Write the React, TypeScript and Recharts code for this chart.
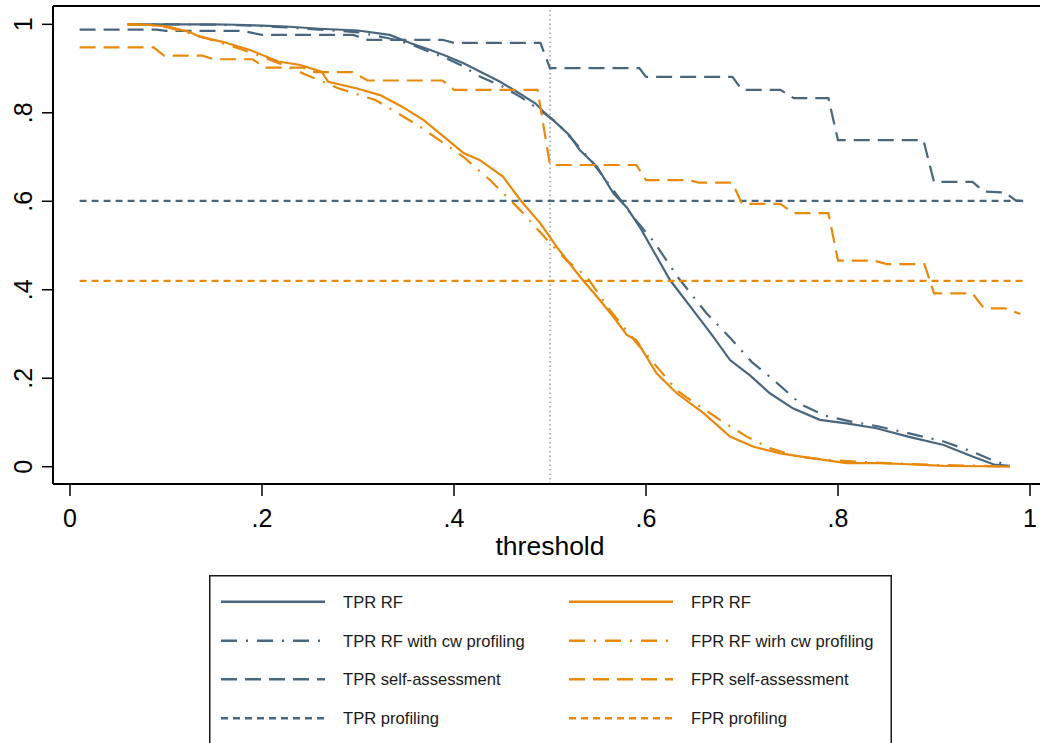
import React from 'react';
import { LineChart, Line, XAxis, YAxis, ReferenceLine } from 'recharts';

const BLUE = '#48677f';
const ORANGE = '#e8890c';
const FONT = '"Liberation Sans", Arial, sans-serif';

const ticks = [0, 0.2, 0.4, 0.6, 0.8, 1];
const tickLabels = ['0', '.2', '.4', '.6', '.8', '1'];
const cutoff = 0.5;

// TPR RF
const tprRfX = [0.06, 0.1, 0.15, 0.173, 0.2, 0.225, 0.26, 0.3, 0.333, 0.355, 0.374, 0.39, 0.41, 0.43, 0.448, 0.465, 0.485, 0.493, 0.507, 0.52, 0.531, 0.549, 0.566, 0.58, 0.594, 0.611, 0.625, 0.649, 0.67, 0.6875, 0.708, 0.729, 0.753, 0.781, 0.809, 0.84, 0.873, 0.91, 0.94, 0.9625, 0.979];
const tprRfY = [1.0, 1.0, 1.0, 0.999, 0.997, 0.995, 0.99, 0.986, 0.976, 0.957, 0.943, 0.93, 0.912, 0.89, 0.87, 0.848, 0.821, 0.803, 0.776, 0.75, 0.716, 0.678, 0.618, 0.586, 0.54, 0.475, 0.422, 0.354, 0.294, 0.241, 0.207, 0.166, 0.132, 0.106, 0.098, 0.087, 0.068, 0.049, 0.023, 0.005, 0.002];

// TPR RF with cw profiling
const tprCwX = [0.06, 0.1, 0.15, 0.173, 0.2, 0.225, 0.26, 0.3, 0.333, 0.355, 0.374, 0.39, 0.41, 0.424, 0.45, 0.47, 0.49, 0.507, 0.524, 0.545, 0.566, 0.585, 0.608, 0.634, 0.663, 0.689, 0.71, 0.733, 0.762, 0.787, 0.818, 0.84, 0.873, 0.91, 0.94, 0.9625, 0.979];
const tprCwY = [1.0, 1.0, 0.999, 0.998, 0.996, 0.993, 0.988, 0.982, 0.968, 0.955, 0.938, 0.925, 0.905, 0.885, 0.86, 0.835, 0.805, 0.778, 0.738, 0.686, 0.625, 0.569, 0.509, 0.426, 0.347, 0.288, 0.237, 0.196, 0.14, 0.115, 0.1, 0.092, 0.076, 0.057, 0.034, 0.013, 0.002];

// TPR self-assessment
const tprSelfX = [0.01, 0.09, 0.1, 0.18, 0.2, 0.295, 0.31, 0.388, 0.4, 0.49, 0.5, 0.593, 0.6, 0.69, 0.7, 0.74, 0.754, 0.79, 0.8, 0.889, 0.9, 0.94, 0.952, 0.974, 0.985, 0.994];
const tprSelfY = [0.988, 0.988, 0.985, 0.985, 0.976, 0.976, 0.965, 0.965, 0.958, 0.958, 0.901, 0.901, 0.881, 0.881, 0.852, 0.852, 0.833, 0.833, 0.738, 0.738, 0.644, 0.644, 0.622, 0.62, 0.602, 0.6];

// TPR profiling
const tprProfX = [0.01, 0.995];
const tprProfY = [0.601, 0.601];

// FPR RF
const fprRfX = [0.06, 0.08, 0.102, 0.124, 0.135, 0.158, 0.1875, 0.217, 0.24, 0.262, 0.269, 0.299, 0.323, 0.345, 0.368, 0.39, 0.41, 0.427, 0.451, 0.469, 0.49, 0.507, 0.531, 0.549, 0.566, 0.58, 0.59, 0.611, 0.632, 0.66, 0.6875, 0.712, 0.74, 0.774, 0.809, 0.844, 0.88, 0.91, 0.95, 0.979];
const fprRfY = [1.0, 0.999, 0.995, 0.983, 0.972, 0.961, 0.942, 0.916, 0.908, 0.893, 0.87, 0.855, 0.84, 0.815, 0.784, 0.745, 0.709, 0.693, 0.656, 0.603, 0.55, 0.497, 0.43, 0.384, 0.339, 0.298, 0.286, 0.211, 0.166, 0.121, 0.068, 0.045, 0.03, 0.019, 0.008, 0.008, 0.005, 0.002, 0.001, 0.0];

// FPR RF wirh cw profiling
const fprCwX = [0.06, 0.08, 0.102, 0.124, 0.14, 0.165, 0.19, 0.22, 0.247, 0.28, 0.318, 0.33, 0.365, 0.41, 0.4375, 0.469, 0.4965, 0.517, 0.538, 0.5625, 0.59, 0.632, 0.646, 0.677, 0.705, 0.729, 0.757, 0.792, 0.85, 0.9, 0.95, 0.979];
const fprCwY = [1.0, 0.999, 0.993, 0.98, 0.97, 0.953, 0.935, 0.91, 0.885, 0.855, 0.829, 0.814, 0.768, 0.7, 0.648, 0.58, 0.514, 0.467, 0.43, 0.354, 0.28, 0.173, 0.151, 0.106, 0.068, 0.042, 0.023, 0.015, 0.008, 0.004, 0.002, 0.0];

// FPR self-assessment
const fprSelfX = [0.01, 0.087, 0.098, 0.138, 0.15, 0.19, 0.204, 0.243, 0.255, 0.294, 0.31, 0.388, 0.4, 0.487, 0.5, 0.59, 0.6, 0.645, 0.655, 0.69, 0.7, 0.74, 0.754, 0.79, 0.8, 0.837, 0.851, 0.89, 0.9, 0.94, 0.952, 0.974, 0.99];
const fprSelfY = [0.948, 0.948, 0.929, 0.929, 0.921, 0.921, 0.902, 0.902, 0.892, 0.892, 0.873, 0.873, 0.852, 0.852, 0.682, 0.682, 0.648, 0.648, 0.642, 0.642, 0.594, 0.594, 0.573, 0.573, 0.466, 0.466, 0.458, 0.458, 0.392, 0.392, 0.358, 0.358, 0.345];

// FPR profiling
const fprProfX = [0.01, 0.997];
const fprProfY = [0.42, 0.42];

const zip = (xs: number[], ys: number[]) => xs.map((x, i) => ({ x, y: ys[i] }));

const DASH_DOT = '16 9 2 9';
const DASHED = '16 8';
const SHORT = '7 5';

const series = [
  { name: 'TPR RF', data: zip(tprRfX, tprRfY), color: BLUE, dash: undefined },
  { name: 'TPR RF with cw profiling', data: zip(tprCwX, tprCwY), color: BLUE, dash: DASH_DOT },
  { name: 'TPR self-assessment', data: zip(tprSelfX, tprSelfY), color: BLUE, dash: DASHED },
  { name: 'TPR profiling', data: zip(tprProfX, tprProfY), color: BLUE, dash: SHORT },
  { name: 'FPR RF', data: zip(fprRfX, fprRfY), color: ORANGE, dash: undefined },
  { name: 'FPR RF wirh cw profiling', data: zip(fprCwX, fprCwY), color: ORANGE, dash: DASH_DOT },
  { name: 'FPR self-assessment', data: zip(fprSelfX, fprSelfY), color: ORANGE, dash: DASHED },
  { name: 'FPR profiling', data: zip(fprProfX, fprProfY), color: ORANGE, dash: SHORT },
];

const xDomain = [-0.0177, 1.0177];
const yDomain = [-0.0391, 1.0414];

const fmt = (v: number) => tickLabels[ticks.indexOf(v)] ?? String(v);

const XTick = (props: any) => {
  const { x, y, payload } = props;
  return (
    <text x={x} y={y + 31} textAnchor="middle" fontSize={25} fontFamily={FONT} fill="#000">
      {fmt(payload.value)}
    </text>
  );
};

const YTick = (props: any) => {
  const { x, y, payload } = props;
  const tx = x - 10;
  return (
    <text x={tx} y={y} transform={`rotate(-90 ${tx} ${y})`} textAnchor="middle" fontSize={25} fontFamily={FONT} fill="#000">
      {fmt(payload.value)}
    </text>
  );
};

const LegendBox = () => {
  const rowY = [26.7, 65.7, 104.3, 143.3];
  const cols = [
    { sx: 12, tx: 134, items: series.slice(0, 4) },
    { sx: 360, tx: 482, items: series.slice(4) },
  ];
  return (
    <svg width={683} height={170} style={{ position: 'absolute', left: 209, top: 575 }}>
      <rect x={0.75} y={0.75} width={681.5} height={175} fill="#fff" stroke="#1a1a1a" strokeWidth={1.5} />
      {cols.map((c, ci) =>
        c.items.map((s, i) => (
          <g key={`${ci}-${i}`}>
            <line x1={c.sx} x2={c.sx + 104} y1={rowY[i]} y2={rowY[i]} stroke={s.color} strokeWidth={2.4} strokeDasharray={s.dash} />
            <text x={c.tx} y={rowY[i] + 6} fontSize={16.6} fontFamily={FONT} fill="#1a1a1a">
              {s.name}
            </text>
          </g>
        ))
      )}
    </svg>
  );
};

export default function App() {
  return (
    <div style={{ position: 'absolute', left: 0, top: 0, width: 1040, height: 743, overflow: 'hidden', background: '#fff' }}>
      <LineChart width={1050} height={743} margin={{ top: 0, left: 0, right: 3, bottom: 0 }}>
        <XAxis
          dataKey="x"
          type="number"
          domain={xDomain}
          allowDataOverflow
          ticks={ticks}
          height={259}
          tickSize={12}
          tickMargin={0}
          tick={<XTick />}
          axisLine={{ stroke: '#000', strokeWidth: 2 }}
          tickLine={{ stroke: '#000', strokeWidth: 1.5 }}
          label={{
            content: (p: any) => {
              const vb = p.viewBox;
              return (
                <text x={vb.x + vb.width / 2} y={vb.y + 71} textAnchor="middle" fontSize={26.5} fontFamily={FONT} fill="#000">
                  threshold
                </text>
              );
            },
          }}
        />
        <XAxis
          xAxisId="top"
          orientation="top"
          dataKey="x"
          type="number"
          domain={xDomain}
          allowDataOverflow
          height={6}
          tick={false}
          tickLine={false}
          axisLine={{ stroke: '#000', strokeWidth: 2 }}
        />
        <YAxis
          dataKey="y"
          type="number"
          domain={yDomain}
          allowDataOverflow
          ticks={ticks}
          width={53}
          tickSize={11}
          tickMargin={0}
          tick={<YTick />}
          axisLine={{ stroke: '#000', strokeWidth: 2 }}
          tickLine={{ stroke: '#000', strokeWidth: 1.5 }}
        />
        <ReferenceLine x={cutoff} stroke="#8a8a8a" strokeWidth={1.3} strokeDasharray="1.5 3" />
        {series.map((s) => (
          <Line
            key={s.name}
            data={s.data}
            dataKey="y"
            name={s.name}
            type="linear"
            stroke={s.color}
            strokeWidth={2.2}
            strokeDasharray={s.dash}
            dot={false}
            activeDot={false}
            isAnimationActive={false}
          />
        ))}
      </LineChart>
      <LegendBox />
    </div>
  );
}
